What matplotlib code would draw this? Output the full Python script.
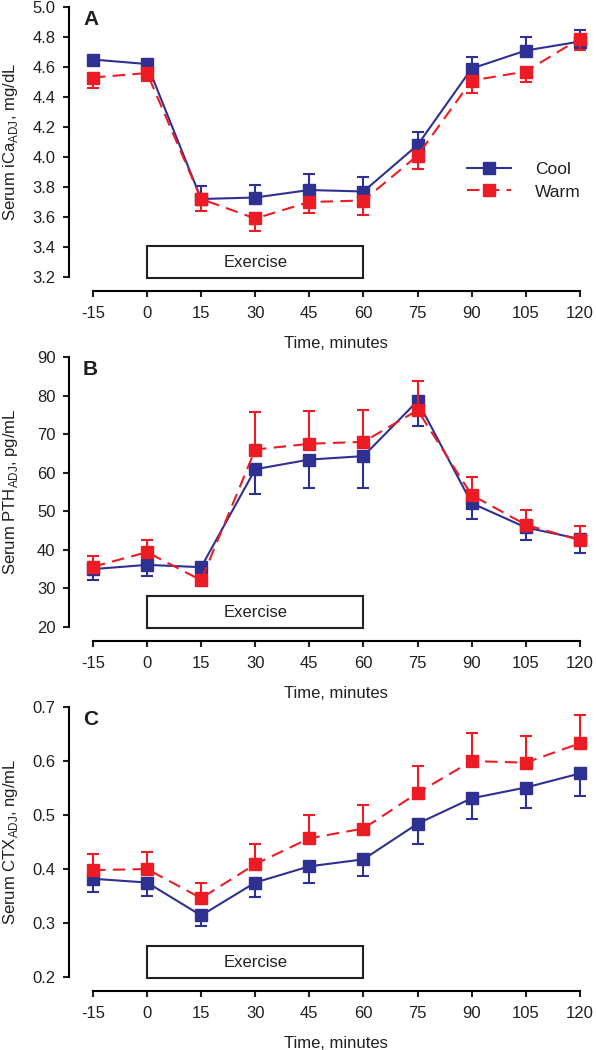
import matplotlib
matplotlib.use("Agg")
import matplotlib.pyplot as plt
import numpy as np
from matplotlib.lines import Line2D
from matplotlib.patches import Rectangle
from matplotlib.transforms import blended_transform_factory

plt.rcParams["font.family"] = ["Liberation Sans", "DejaVu Sans"]
plt.rcParams["mathtext.fontset"] = "custom"
plt.rcParams["mathtext.rm"] = "Liberation Sans"

# ── data ──
times = [-15, 0, 15, 30, 45, 60, 75, 90, 105, 120]
exercise_window = (0, 60)

ica_cool = [4.65, 4.62, 3.72, 3.73, 3.78, 3.77, 4.08, 4.59, 4.71, 4.77]
ica_cool_err = [0.02, 0.02, 0.09, 0.085, 0.105, 0.10, 0.09, 0.08, 0.09, 0.08]
ica_warm = [4.53, 4.56, 3.72, 3.59, 3.70, 3.71, 4.01, 4.51, 4.57, 4.79]
ica_warm_err = [0.07, 0.055, 0.08, 0.085, 0.075, 0.095, 0.09, 0.085, 0.07, 0.075]

pth_cool = [35.0, 36.1, 35.5, 60.9, 63.4, 64.3, 78.6, 52.1, 45.8, 42.8]
pth_cool_err = [2.9, 2.9, 1.2, 6.4, 7.3, 8.2, 6.6, 4.1, 3.3, 3.6]
pth_warm = [35.6, 39.4, 32.1, 66.0, 67.5, 68.0, 76.2, 54.2, 46.5, 42.5]
pth_warm_err = [2.8, 3.1, 1.5, 9.8, 8.6, 8.3, 7.5, 4.8, 3.7, 3.6]

ctx_cool = [0.382, 0.375, 0.314, 0.375, 0.405, 0.418, 0.484, 0.531, 0.551, 0.577]
ctx_cool_err = [0.025, 0.025, 0.02, 0.027, 0.03, 0.03, 0.037, 0.039, 0.038, 0.041]
ctx_warm = [0.398, 0.40, 0.346, 0.409, 0.457, 0.475, 0.541, 0.60, 0.597, 0.633]
ctx_warm_err = [0.029, 0.032, 0.029, 0.037, 0.044, 0.044, 0.049, 0.052, 0.049, 0.053]

BLUE = "#2E3192"
RED = "#ED1C24"
TXT = "#231F20"
DASH = (0, (6, 3.5))

panels = [
    # letter, cool, cool_err, warm, warm_err, cool errors go up?, ylim, yticks, fmt, ylabel, bottom
    ("A", ica_cool, ica_cool_err, ica_warm, ica_warm_err, True, (3.2, 5.0),
     np.arange(3.2, 5.01, 0.2), "{:.1f}", r"Serum iCa$_{\mathregular{ADJ}}$, mg/dL", 0.7362),
    ("B", pth_cool, pth_cool_err, pth_warm, pth_warm_err, False, (20, 90),
     np.arange(20, 91, 10), "{:.0f}", r"Serum PTH$_{\mathregular{ADJ}}$, pg/mL", 0.4029),
    ("C", ctx_cool, ctx_cool_err, ctx_warm, ctx_warm_err, False, (0.2, 0.7),
     np.arange(0.2, 0.71, 0.1), "{:.1f}", r"Serum CTX$_{\mathregular{ADJ}}$, ng/mL", 0.0695),
]

fig = plt.figure(figsize=(5.96, 10.5), dpi=100)

for letter, cool, cool_err, warm, warm_err, cool_up, ylim, yticks, fmt, ylabel, bottom in panels:
    ax = fig.add_axes([0.1166, bottom, 0.8733, 0.2571])
    zeros = np.zeros(len(times))
    # error bars are one-sided, pointing away from the other series
    if cool_up:
        c_err = [zeros, cool_err]
        w_err = [warm_err, zeros]
    else:
        c_err = [cool_err, zeros]
        w_err = [zeros, warm_err]

    ax.errorbar(times, cool, yerr=c_err, color=BLUE, lw=1.5, marker="s", ms=8.5,
                mec=BLUE, capsize=4.5, capthick=1.5, elinewidth=1.5,
                clip_on=False, zorder=3)
    ax.errorbar(times, warm, yerr=w_err, color=RED, lw=1.5, ls=DASH, marker="s",
                ms=8.5, mec=RED, capsize=4.5, capthick=1.5, elinewidth=1.5,
                clip_on=False, zorder=4)

    ax.set_xlim(-21.5, 122.8)
    ax.set_ylim(*ylim)
    ax.set_xticks(times)
    ax.set_xticklabels([str(t) for t in times])
    ax.set_yticks(yticks)
    ax.set_yticklabels([fmt.format(v) for v in yticks])

    for s in ("top", "right"):
        ax.spines[s].set_visible(False)
    ax.spines["left"].set_linewidth(1.5)
    ax.spines["bottom"].set_linewidth(1.5)
    ax.spines["bottom"].set_position(("outward", 10))
    ax.spines["bottom"].set_bounds(times[0], times[-1])
    ax.tick_params(axis="both", direction="out", length=4, width=1.5,
                   labelsize=12, colors=TXT, labelcolor=TXT)
    ax.tick_params(axis="x", pad=7)
    ax.tick_params(axis="y", pad=6)

    ax.set_ylabel(ylabel, fontsize=12, color=TXT)
    ax.yaxis.set_label_coords(-0.095, 0.5)
    ax.set_xlabel("Time, minutes", fontsize=12, color=TXT)
    ax.xaxis.set_label_coords(52.5, -0.22,
                              transform=blended_transform_factory(ax.transData, ax.transAxes))

    ax.text(0.026, 0.955, letter, transform=ax.transAxes, fontsize=15,
            fontweight="bold", color=TXT, ha="left", va="center")

    # exercise box
    trans = blended_transform_factory(ax.transData, ax.transAxes)
    x0, x1 = exercise_window
    ax.add_patch(Rectangle((x0, -0.005), x1 - x0, 0.121, transform=trans,
                           facecolor="white", edgecolor=TXT, lw=1.5,
                           clip_on=False, zorder=2))
    ax.text((x0 + x1) / 2, 0.055, "Exercise", transform=trans, fontsize=12,
            color=TXT, ha="center", va="center", zorder=5)

    if letter == "A":
        handles = [
            Line2D([], [], color=BLUE, lw=1.5, marker="s", ms=8.5, mec=BLUE),
            Line2D([], [], color=RED, lw=1.5, ls=DASH, marker="s", ms=8.5, mec=RED),
        ]
        ax.legend(handles, ["Cool", "Warm"], loc="center left",
                  bbox_to_anchor=(0.764, 0.356), frameon=False,
                  fontsize=12.5, handlelength=2.5, handletextpad=1.4, labelspacing=0.4,
                  borderpad=0, borderaxespad=0, labelcolor=TXT)

fig.savefig("out.png", dpi=100)
